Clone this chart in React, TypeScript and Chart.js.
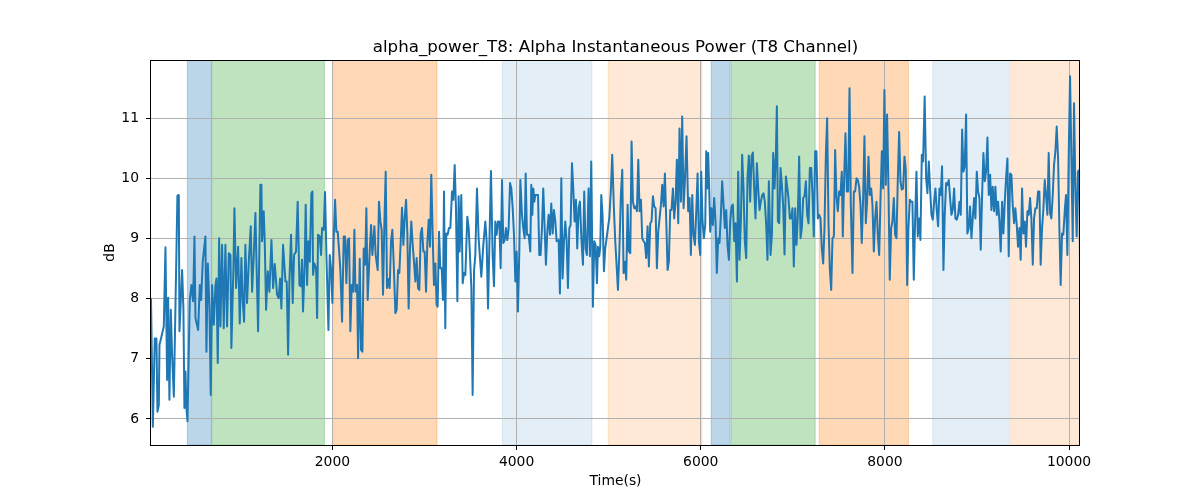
import React, { useEffect, useRef } from 'react';
import { Chart, registerables } from 'chart.js';

Chart.register(...registerables);

// sample times (s)
const sampleTimes = [
  30, 50, 71, 89, 100, 115, 122, 169, 187, 205,
  216, 230, 245, 259, 278, 303, 317, 332, 339, 368,
  382, 393, 404, 415, 426, 451, 469, 487, 502, 513,
  542, 560, 574, 592, 621, 632, 647, 665, 679, 694,
  712, 730, 741, 755, 770, 784, 802, 820, 838, 856,
  875, 893, 903, 925, 936, 954, 976, 994, 1012, 1026,
  1041, 1055, 1073, 1092, 1113, 1128, 1146, 1164, 1175, 1193,
  1218, 1229, 1236, 1254, 1265, 1280, 1298, 1316, 1338, 1356,
  1374, 1399, 1417, 1432, 1446, 1464, 1490, 1504, 1519, 1533,
  1551, 1569, 1584, 1605, 1623, 1642, 1656, 1670, 1681, 1699,
  1710, 1725, 1739, 1754, 1772, 1783, 1790, 1805, 1823, 1834,
  1844, 1862, 1877, 1888, 1906, 1920, 1935, 1957, 1971, 1985,
  2000, 2014, 2029, 2043, 2058, 2076, 2087, 2105, 2123, 2137,
  2152, 2166, 2181, 2195, 2210, 2224, 2239, 2250, 2268, 2279,
  2297, 2311, 2326, 2340, 2355, 2369, 2383, 2405, 2420, 2434,
  2456, 2470, 2492, 2506, 2521, 2535, 2550, 2564, 2579, 2593,
  2608, 2622, 2637, 2651, 2666, 2684, 2698, 2713, 2727, 2742,
  2756, 2771, 2785, 2800, 2814, 2828, 2843, 2857, 2872, 2886,
  2901, 2915, 2930, 2944, 2959, 2973, 2988, 3002, 3017, 3031,
  3046, 3060, 3074, 3089, 3103, 3118, 3132, 3143, 3158, 3172,
  3187, 3201, 3212, 3226, 3237, 3252, 3266, 3281, 3299, 3313,
  3328, 3342, 3357, 3371, 3382,
  3400, 3415, 3429, 3444, 3465, 3480, 3494, 3509, 3523, 3538,
  3552, 3570, 3588, 3617, 3639, 3661, 3675, 3690, 3704, 3722,
  3740, 3755, 3769, 3784, 3798, 3813, 3827, 3842, 3856, 3871,
  3885, 3900, 3914, 3929, 3943, 3958, 3972, 3987, 4001, 4015,
  4030, 4041, 4059, 4073, 4088, 4099, 4113, 4131, 4149, 4160,
  4171, 4182, 4193, 4204, 4218, 4233, 4247, 4261, 4276, 4290,
  4305, 4319, 4334, 4348, 4363, 4377, 4392, 4406, 4421, 4435,
  4457, 4471, 4486, 4500, 4515, 4529, 4544, 4558, 4573, 4587,
  4602, 4616, 4630, 4645, 4659, 4674, 4688, 4703, 4721, 4735,
  4750, 4764, 4782, 4797, 4811, 4829, 4844, 4858, 4873, 4884,
  4898, 4909, 4920, 4934, 4949, 4963, 4978, 4992, 5007, 5025,
  5039, 5057,
  5072, 5090, 5101, 5115, 5133, 5148, 5162, 5177, 5191, 5206,
  5220, 5235, 5249, 5264, 5278, 5293, 5307, 5322, 5336, 5351,
  5365, 5380, 5394, 5408, 5423, 5437, 5452, 5466, 5481, 5495,
  5510, 5524, 5539, 5553, 5568, 5582, 5597, 5611, 5626, 5640,
  5654, 5669, 5683, 5698, 5712, 5727, 5741, 5756, 5770, 5785,
  5799, 5814, 5828, 5846, 5864, 5879, 5893, 5908, 5922, 5937,
  5951, 5966, 5980, 5995, 6005, 6020, 6034, 6049, 6060, 6071,
  6081, 6092, 6103, 6117, 6132, 6146, 6161, 6175, 6190, 6204,
  6219, 6233, 6248, 6262, 6277, 6291, 6306, 6320, 6335, 6349,
  6364, 6378, 6393, 6407, 6421, 6436, 6450, 6465, 6479, 6494,
  6508, 6523, 6537, 6552, 6566, 6581, 6595, 6610, 6624, 6639,
  6653, 6668, 6682, 6696, 6711, 6725, 6740,
  6758, 6773, 6787, 6802, 6816, 6827, 6838, 6852, 6867, 6881,
  6896, 6910, 6925, 6939, 6953, 6968, 6982, 6997, 7011, 7026,
  7040, 7055, 7069, 7084, 7098, 7113, 7127, 7142, 7156, 7171,
  7185, 7200, 7214, 7228, 7243, 7257, 7272, 7286, 7301, 7315,
  7330, 7344, 7359, 7373, 7388, 7402, 7417, 7431, 7446, 7460,
  7474, 7489, 7503, 7518, 7532, 7543, 7558, 7572, 7587, 7601,
  7616, 7630, 7648, 7663, 7677, 7692, 7706, 7720, 7735, 7749,
  7764, 7778, 7793, 7807, 7822, 7836, 7851, 7865, 7880, 7894,
  7909, 7923, 7938, 7952, 7967, 7981, 7995, 8010, 8024, 8039,
  8053, 8068, 8082, 8097, 8111, 8126, 8140, 8155, 8169, 8184,
  8198, 8213, 8227, 8242, 8256, 8271, 8285, 8299, 8314, 8328,
  8343, 8357, 8372, 8386, 8401, 8415, 8432,
  8448, 8462, 8477, 8491, 8506, 8520, 8535, 8549, 8564,
  8578, 8593, 8607, 8621, 8636, 8650, 8665, 8679, 8694, 8708,
  8723, 8737, 8752, 8766, 8781, 8795, 8810, 8824, 8839, 8853,
  8867, 8882, 8896, 8911, 8925, 8940, 8954, 8969, 8983, 8998,
  9012, 9027, 9041, 9056, 9070, 9085, 9099, 9114, 9128, 9143,
  9157, 9171, 9186, 9200, 9215, 9229, 9244, 9258, 9273, 9287,
  9302, 9316, 9331, 9345, 9360, 9374, 9388, 9403, 9417, 9432,
  9446, 9461, 9475, 9490, 9504, 9519, 9533, 9548, 9562, 9577,
  9591, 9606, 9620, 9635, 9649, 9664, 9678, 9692, 9707, 9721,
  9736, 9750, 9765, 9779, 9794, 9808, 9823, 9837, 9852, 9866,
  9881, 9895, 9909, 9924, 9938, 9953, 9967, 9982, 9996, 10011,
  10025, 10040, 10054, 10069, 10083, 10097, 10112, 10119,
];

// alpha power in dB at each sample time
const alphaDb = [
  8.01, 5.87, 7.34, 7.34, 6.12, 6.23, 7.23, 7.54, 8.86, 6.65,
  8.02, 6.32, 7.82, 7.07, 6.37, 8.51, 9.72, 9.73, 7.46, 8.48,
  7.84, 6.18, 6.79, 6.18, 5.96, 7.98, 8.23, 7.96, 9.04, 7.68,
  7.48, 8.23, 7.98, 8.62, 9.04, 7.12, 8.59, 7.84, 6.4, 8.23,
  7.57, 8.23, 8.34, 6.93, 9.01, 7.54, 8.9, 7.51, 8.9, 7.54,
  8.76, 8.73, 7.18, 8.51, 9.51, 8.18, 8.87, 7.59, 8.68, 7.96,
  7.62, 8.9, 7.93, 8.62, 9.21, 8.12, 8.73, 9.43, 8.65, 7.46,
  9.9, 9.9, 8.96, 9.46, 8.96, 7.82, 8.46, 8.12, 8.98, 8.18,
  8.58, 8.07, 8.01, 8.34, 7.84, 8.9, 8.29, 8.29, 7.07, 8.29,
  9.07, 7.93, 8.73, 8.79, 9.62, 8.23, 8.21, 8.65, 7.79, 8.57,
  9.57, 8.23, 8.96, 8.62, 9.76, 9.79, 8.4, 8.59, 8.51, 7.68,
  9.07, 9.04, 8.73, 9.18, 9.15, 9.78, 8.73, 7.48, 8.73, 8.51,
  7.93, 8.98, 9.65, 9.12, 9.12, 8.73, 8.46, 7.62, 9.04, 9.04,
  8.26, 8.98, 9.01, 7.46, 8.23, 8.12, 9.15, 8.12, 8.23, 7.01,
  8.67, 7.15, 7.12, 8.84, 8.57, 9.51, 7.98, 8.79, 9.23, 8.73,
  9.21, 8.73, 8.48, 9.62, 9.29, 9.15, 8.07, 9.23, 10.12, 8.18,
  8.33, 8.18, 8.96, 9.15, 8.59, 7.76, 7.82, 8.48, 8.43, 8.96,
  9.52, 8.9, 9.34, 9.65, 9.09, 7.84, 8.84, 9.29, 8.9, 8.62,
  8.29, 8.68, 8.18, 8.15, 9.09, 9.18, 8.79, 8.79, 8.12, 8.93,
  9.32, 8.87, 10.07, 9.07, 8.23, 8.59, 7.9, 7.87, 9.12, 8.51,
  8.51, 7.98, 9.79, 7.51, 9.09, 9.07, 9.18, 9.18, 9.79, 9.65,
  10.23, 9.51, 7.96, 9.71, 8.79,
  9.73, 8.26, 8.43, 8.4, 9.37, 9.18, 8.73, 8.18, 6.4, 8.46,
  8.73, 9.84, 9.01, 8.37, 8.9, 9.29, 8.96, 7.84, 8.84, 10.13,
  8.73, 8.21, 9.29, 9.07, 9.29, 9.29, 8.51, 9.98, 8.93, 8.98,
  9.18, 8.98, 9.18, 9.93, 9.84, 9.51, 9.07, 8.29, 8.79, 7.79,
  8.79, 9.98, 9.4, 9.18, 9.01, 10.09, 9.07, 9.07, 8.79, 9.9,
  9.4, 9.84, 9.62, 9.73, 9.73, 9.73, 8.73, 8.73, 9.18, 9.84,
  9.18, 8.57, 9.12, 9.4, 9.07, 9.59, 9.09, 9.48, 9.29, 8.96,
  8.98, 8.09, 10.01, 8.34, 8.96, 9.29, 8.96, 8.18, 9.18, 9.23,
  10.26, 9.84, 9.29, 9.65, 8.84, 9.51, 9.62, 9.04, 8.57, 9.79,
  8.84, 8.73, 9.84, 8.71, 10.29, 7.87, 8.96, 8.9, 8.26, 8.87,
  8.71, 8.87, 9.73, 9.4, 8.46, 8.84, 9.01, 9.18, 9.34, 9.84,
  10.4, 9.51,
  8.96, 8.46, 8.15, 8.73, 9.73, 10.15, 8.43, 8.62, 8.32, 9.57,
  8.79, 8.76, 10.62, 9.62, 9.51, 9.54, 9.46, 10.32, 9.46, 9.65,
  9.01, 8.96, 8.93, 8.68, 9.21, 8.54, 9.26, 9.29, 9.71, 9.54,
  9.51, 8.51, 9.12, 9.34, 9.57, 9.9, 9.54, 10.09, 9.29, 8.48,
  8.62, 9.48, 9.48, 9.84, 9.34, 9.62, 10.32, 9.26, 10.84, 9.62,
  11.04, 9.51, 9.96, 10.71, 9.46, 9.68, 8.73, 9.73, 9.07, 8.9,
  9.43, 10.09, 8.96, 8.73, 10.12, 9.29, 9.01, 9.23, 10.46, 9.84,
  10.43, 9.84, 9.12, 9.51, 9.23, 9.68, 9.29, 8.43, 9.01, 8.93,
  9.4, 9.96, 9.57, 9.18, 9.48, 8.9, 8.65, 9.29, 9.54, 9.57,
  8.96, 9.26, 8.29, 10.12, 8.65, 9.29, 10.4, 9.82, 8.96, 8.68,
  10.01, 10.39, 9.62, 10.37, 10.44, 9.84, 9.34, 10.26, 9.84, 9.48,
  9.62, 9.73, 9.76, 9.62, 9.23, 8.65, 9.96,
  8.73, 9.07, 10.43, 9.84, 10.4, 11.21, 9.29, 9.26, 10.18, 9.9,
  9.54, 8.74, 10.04, 9.87, 9.68, 9.34, 9.34, 9.51, 8.54, 9.51,
  8.9, 9.4, 10.37, 9.01, 9.18, 9.68, 9.71, 9.96, 9.4, 9.26,
  10.18, 10.18, 9.73, 9.04, 10.46, 10.46, 9.34, 9.4, 9.34, 8.84,
  8.59, 9.18, 10.4, 11.01, 9.26, 8.51, 8.15, 9.01, 9.04, 10.48,
  9.71, 9.46, 9.79, 9.73, 10.12, 9.04, 10.04, 10.76, 9.79, 9.79,
  11.51, 9.57, 8.43, 9.79, 9.79, 10.01, 9.98, 9.87, 9.57, 8.93,
  9.68, 10.71, 9.26, 9.62, 10.37, 9.73, 9.84, 9.57, 8.79, 9.34,
  9.62, 9.07, 8.73, 9.62, 10.46, 9.84, 11.48, 9.9, 11.07, 9.84,
  8.32, 9.18, 9.29, 9.68, 9.07, 9.01, 9.96, 10.78, 9.96, 9.82,
  9.84, 10.37, 10.15, 8.23, 9.18, 9.65, 9.62, 9.62, 8.32, 9.29,
  10.12, 9.04, 9.34, 8.98, 10.4, 10.29, 11.37,
  10.01, 9.76, 10.29, 9.84, 9.4, 9.32, 9.62, 9.84, 9.46,
  9.21, 9.84, 9.73, 10.21, 8.48, 9.4, 9.93, 9.9, 9.98, 9.68,
  9.4, 9.48, 9.84, 9.34, 9.32, 9.4, 9.62, 9.4, 10.82, 10.12,
  10.21, 11.07, 9.09, 9.18, 9.54, 9.01, 9.34, 9.68, 9.34, 10.12,
  9.79, 9.68, 8.82, 9.73, 10.43, 9.96, 10.12, 10.69, 9.73, 10.07,
  9.48, 9.87, 9.46, 9.87, 9.4, 9.62, 9.29, 8.79, 9.62, 9.09,
  9.62, 10.01, 10.34, 8.71, 10.09, 10.07, 9.57, 9.26, 9.51, 9.23,
  8.87, 9.18, 8.65, 9.84, 9.09, 9.29, 8.87, 9.46, 9.4, 9.68,
  9.34, 8.57, 9.34, 9.51, 9.51, 9.79, 9.79, 8.57, 9.18, 9.48,
  9.98, 9.73, 9.4, 10.43, 9.43, 9.34, 9.73, 10.23, 10.46, 10.87,
  10.34, 9.18, 8.23, 9.09, 9.07, 9.46, 9.73, 8.73, 10.34, 11.71,
  10.4, 8.96, 11.26, 9.84, 9.04, 10.12, 10.15, 8.54,
];

// shaded epochs
const spanStarts = [425, 690, 2014, 3845, 4996, 6114, 6331, 7286, 8520, 9367];
const spanEnds = [685, 1913, 3136, 4819, 6013, 6320, 7243, 8256, 9352, 10119];
const spanKinds = ['blue', 'green', 'orange', 'lightblue', 'lightorange', 'blue', 'green', 'orange', 'lightblue', 'lightorange'];

const xTicks = [2000, 4000, 6000, 8000, 10000];
const yTicks = [6, 7, 8, 9, 10, 11];

const TITLE = 'alpha_power_T8: Alpha Instantaneous Power (T8 Channel)';
const FONT = "'DejaVu Sans', sans-serif";

const spanColors: Record<string, string> = {
  blue: 'rgba(31,119,180,0.3)',
  green: 'rgba(44,160,44,0.3)',
  orange: 'rgba(255,127,14,0.3)',
  lightblue: 'rgba(31,119,180,0.12)',
  lightorange: 'rgba(255,127,14,0.17)',
};

const spansPlugin = {
  id: 'spans',
  beforeDraw(chart: Chart) {
    const { ctx, chartArea, scales } = chart;
    const x = scales.x;
    ctx.save();
    ctx.beginPath();
    ctx.rect(chartArea.left, chartArea.top, chartArea.right - chartArea.left, chartArea.bottom - chartArea.top);
    ctx.clip();
    spanStarts.forEach((s, i) => {
      const x0 = x.getPixelForValue(s);
      const x1 = x.getPixelForValue(spanEnds[i]);
      const c = spanColors[spanKinds[i]];
      ctx.fillStyle = c;
      ctx.fillRect(x0, chartArea.top, x1 - x0, chartArea.bottom - chartArea.top);
      ctx.strokeStyle = c;
      ctx.lineWidth = 1;
      ctx.strokeRect(x0, chartArea.top, x1 - x0, chartArea.bottom - chartArea.top);
    });
    ctx.restore();
  },
};

const framePlugin = {
  id: 'frame',
  afterDraw(chart: Chart) {
    const { ctx, chartArea } = chart;
    const { left, right, top, bottom } = chartArea;
    ctx.save();
    ctx.strokeStyle = '#000';
    ctx.lineWidth = 1;
    ctx.strokeRect(Math.round(left) - 0.5, Math.round(top) + 0.5, Math.round(right - left), Math.round(bottom - top));

    ctx.fillStyle = '#000';
    ctx.textAlign = 'center';
    ctx.textBaseline = 'alphabetic';
    ctx.font = `16.67px ${FONT}`;
    ctx.fillText(TITLE, (left + right) / 2, top - 8);

    ctx.font = `13.9px ${FONT}`;
    ctx.textBaseline = 'middle';
    ctx.fillText('Time(s)', (left + right) / 2, 481);

    ctx.translate(110, (top + bottom) / 2);
    ctx.rotate(-Math.PI / 2);
    ctx.fillText('dB', 0, 0);
    ctx.restore();
  },
};

export default function App() {
  const canvasRef = useRef<HTMLCanvasElement>(null);

  useEffect(() => {
    document.body.style.margin = '0';
    if (!canvasRef.current) return;

    const tickFont = { family: FONT, size: 13.9 };
    const grid = {
      color: '#b0b0b0',
      lineWidth: 1,
      drawTicks: true,
      tickLength: 5,
      tickColor: '#000',
      tickWidth: 1,
    };

    const chart = new Chart(canvasRef.current, {
      type: 'line',
      data: {
        datasets: [{
          data: sampleTimes.map((t, i) => ({ x: t, y: alphaDb[i] })),
          borderColor: '#1f77b4',
          borderWidth: 2,
          pointRadius: 0,
          tension: 0,
          fill: false,
          borderJoinStyle: 'round',
        }],
      },
      options: {
        responsive: false,
        animation: false,
        events: [],
        layout: { padding: { top: 60, right: 120, bottom: 0, left: 0 } },
        plugins: {
          legend: { display: false },
          tooltip: { enabled: false },
          title: { display: false },
        },
        scales: {
          x: {
            type: 'linear',
            min: 30,
            max: 10119,
            grid,
            border: { display: false },
            afterBuildTicks: (s: any) => { s.ticks = xTicks.map(v => ({ value: v })); },
            afterFit: (s: any) => { s.height = 55; },
            ticks: {
              color: '#000',
              font: tickFont,
              padding: 4,
              maxRotation: 0,
              autoSkip: false,
              callback: (v: any) => String(v),
            },
          },
          y: {
            type: 'linear',
            min: 5.565,
            max: 11.98,
            grid,
            border: { display: false },
            afterBuildTicks: (s: any) => { s.ticks = yTicks.map(v => ({ value: v })); },
            afterFit: (s: any) => { s.width = 151; },
            ticks: {
              color: '#000',
              font: tickFont,
              padding: 7,
              autoSkip: false,
              callback: (v: any) => String(v),
            },
          },
        },
      },
      plugins: [spansPlugin, framePlugin],
    } as any);

    return () => chart.destroy();
  }, []);

  return (
    <div style={{ width: 1200, height: 500 }}>
      <canvas ref={canvasRef} width={1200} height={500} style={{ display: 'block' }} />
    </div>
  );
}
